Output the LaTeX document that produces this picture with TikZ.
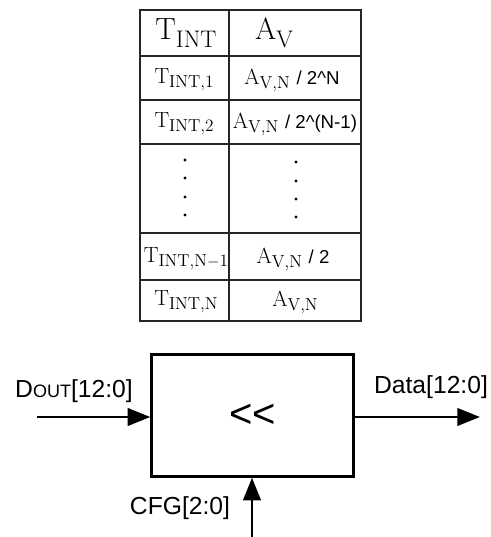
\documentclass[tikz,border=0pt]{standalone}
\usepackage{fontspec}
\setsansfont{Liberation Sans}
\usetikzlibrary{arrows.meta}

\tikzset{
  cell/.style={inner sep=0pt, font=\fontsize{16.5}{18}\selectfont},
  hcell/.style={inner sep=0pt, font=\fontsize{23}{26}\selectfont},
  sig/.style={inner sep=0pt, font=\sffamily\fontsize{18.5}{20}\selectfont},
  bus/.style={line width=2.2pt, -{Triangle[length=17pt, width=13pt]}},
  dotcol/.style={fill=black}
}
% lowered subscripts, body and header sizes
\newcommand{\bsub}[1]{\raisebox{-3pt}{\fontsize{13}{14}\selectfont #1}}
\newcommand{\hsub}[1]{\raisebox{-6pt}{\fontsize{18}{20}\selectfont #1}}
\newcommand{\tint}[1]{T\bsub{INT#1}}
\newcommand{\avn}{A\bsub{V,N}}
\newcommand{\tail}[1]{\textsf{\fontsize{14}{16}\selectfont #1}}

\begin{document}
\begin{tikzpicture}[x=0.75pt, y=-0.75pt]
  \useasboundingbox (0,0) rectangle (491,537);

  %% ---------- TOP: table of integration times vs gain ----------
  \begin{scope}[draw=black!85, line width=1.1pt]
    \draw (140,10) rectangle (361,321);
    \draw (229,10) -- (229,321);
    \foreach \y in {56,100,144,233,280}
      \draw (140,\y) -- (361,\y);
  \end{scope}

  \node[hcell] (hT) at (186,33) {T\hsub{INT}};
  \node[hcell] (hA) at (274,33) {A\hsub{V}};

  \node[cell] (t1) at (184,80)  {\tint{,1}};
  \node[cell] (a1) at (292,80)  {\avn\ \tail{/ 2\textasciicircum N}};
  \node[cell] (t2) at (184,124) {\tint{,2}};
  \node[cell] (a2) at (295,124) {\avn\ \tail{/ 2\textasciicircum(N-1)}};
  \node[cell] (t3) at (186,259) {\tint{,N$-$1}};
  \node[cell] (a3) at (293,259) {\avn\ \tail{/ 2}};
  \node[cell] (t4) at (186,302) {\tint{,N}};
  \node[cell] (a4) at (295,302) {\avn};

  % vertical ellipsis in both columns
  \foreach \y in {160,178,197,215}
    \fill[dotcol] (185,\y) circle (1.3pt);
  \foreach \y in {162,181,199,217}
    \fill[dotcol] (296,\y) circle (1.3pt);

  %% ---------- BOTTOM: shifter block ----------
  \node[draw, line width=2.2pt, minimum width=151pt, minimum height=91pt,
        inner sep=0pt] (shift) at (252.5,415.5)
        {\sffamily\fontsize{30}{30}\selectfont {<}{<}};

  \coordinate (din)  at (37,417);
  \coordinate (dout) at (480,417);
  \coordinate (cfg)  at (252,537);

  \draw[bus] (din) -- (din -| shift.west);
  \draw[bus] (dout -| shift.east) -- (dout);
  \draw[bus] (cfg) -- (shift.south -| cfg);

  \node[sig] (ldin)  at (74,391)  {D{\fontsize{13.5}{15}\selectfont OUT}[12:0]};
  \node[sig] (ldout) at (431,387) {Data[12:0]};
  \node[sig] (lcfg)  at (180,508) {CFG[2:0]};
\end{tikzpicture}
\end{document}
